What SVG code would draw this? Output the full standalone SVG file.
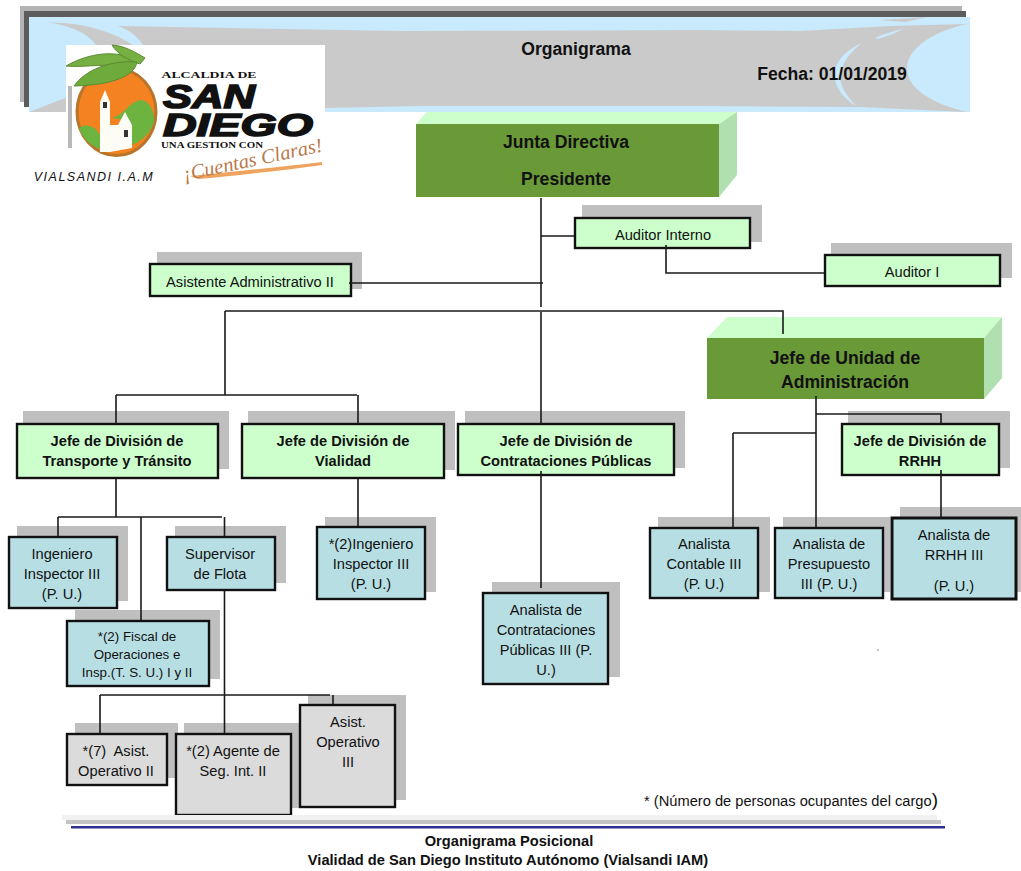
<svg xmlns="http://www.w3.org/2000/svg" width="1021" height="871" viewBox="0 0 1021 871">
<style>
text{font-family:"Liberation Sans",Arial,sans-serif;font-size:14.67px;fill:#111;text-anchor:middle}
.b{font-weight:bold}
.l{font-size:17.6px;font-weight:bold}
.s{fill:#bfbfbf}
.g{fill:#ccffcc;stroke:#111;stroke-width:2.4}
.c{fill:#b7dfe3;stroke:#111;stroke-width:2.4}
.y{fill:#dbdbdb;stroke:#111;stroke-width:2.4}
.f{fill:#6a9938}
.t{fill:#ccffcc}
.d{fill:#b0dfb0}
.sw{fill:#cacaca}
.bl{fill:#c9e9fd}
#connectors path{fill:none;stroke:#1a1a1a;stroke-width:1.6}
</style>
<g id="header">
<rect x="20" y="6" width="942" height="96" fill="#b4b4b4"/>
<rect x="24" y="11" width="942" height="96" fill="#5c5c5c"/>
<rect class="bl" x="29" y="17" width="941" height="95"/>
<path class="sw" d="M143 45C138 37 130 30 118 26L400 31L700 30L800 31L890 26L967 24C930 32 907 50 907 68C907 88 930 103 967 112L860 107L700 106L420 106L325 108V45Z"/>
<path class="sw" d="M45 22C70 25 88 33 96 45H133C115 33 90 25 63 23Z"/>
<path class="sw" d="M880 20L927 17L905 22Z"/>
<path class="sw" d="M29 112L60 100L66 98V112Z"/>
<path class="bl" d="M862 43C842 52 832 66 835 80C838 92 846 100 856 106C848 97 841 88 840 78C840 65 850 52 862 43Z"/>
<path class="bl" d="M875 38C885 33 895 31 905 28L893 34L878 39Z"/>
<text class="l" x="576" y="55">Organigrama</text>
<text class="l" x="832" y="80">Fecha: 01/01/2019</text>
</g>
<g id="logo">
<rect x="66" y="45" width="259" height="135" fill="#fff"/>
<ellipse cx="116.500" cy="112" rx="39.500" ry="43.500" fill="#f58220" stroke="#b8752a" stroke-width="3"/>
<path d="M79 128C88 122 96 128 100 135L100 149C90 146 83 138 79 128Z" fill="#6cb33f"/>
<path d="M112 118C125 115 130 100 142 100C150 102 155 112 154 122C150 135 140 142 130 146L125 120Z" fill="#6cb33f"/>
<path d="M100 152V102L105 90L110 102V152Z" fill="#fdfdf5"/>
<path d="M110 152V125H118L125 112L132 125V148Z" fill="#fdfdf5"/>
<rect x="103" y="102" width="4" height="6" fill="#333"/>
<rect x="124" y="130" width="4" height="7" fill="#333"/>
<path d="M66 66C85 55 110 50 128 57L138 60L130 68C110 62 85 68 66 66Z" fill="#76b043" stroke="#5b8a32"/>
<path d="M112 45C125 46 135 52 145 58L140 64C128 60 118 55 112 45Z" fill="#76b043" stroke="#5b8a32"/>
<path d="M74 86C85 70 110 60 137 62C135 75 115 85 74 86Z" fill="#6faa3d" stroke="#5b8a32"/>
<rect x="68" y="86" width="4" height="62" fill="#b9b9b9"/>
<text class="b" x="209" y="78" style="font-size:9px;font-family:'Liberation Serif',serif" textLength="95" lengthAdjust="spacingAndGlyphs">ALCALDIA DE</text>
<text class="b" x="209" y="108" style="font-size:33px;font-style:italic;stroke:#111;stroke-width:1.600" textLength="92" lengthAdjust="spacingAndGlyphs">SAN</text>
<text class="b" x="238" y="136" style="font-size:32px;font-style:italic;stroke:#111;stroke-width:1.600" textLength="150" lengthAdjust="spacingAndGlyphs">DIEGO</text>
<text class="b" x="212" y="148" style="font-size:7.500px;font-family:'Liberation Serif',serif" textLength="102" lengthAdjust="spacingAndGlyphs">UNA GESTION CON</text>
<path d="M190 176C230 172 280 167 322 162L322 165C280 171 230 176 198 179Z" fill="#f0a35e"/>
<text x="254" y="166" transform="rotate(-12 254 166)" style="font-family:'Liberation Serif',serif;font-style:italic;font-size:20px;fill:#b9794a" textLength="142" lengthAdjust="spacingAndGlyphs">¡Cuentas Claras!</text>
<text x="94" y="181" style="font-size:12.500px;font-style:italic;letter-spacing:1.500px">VIALSANDI I.A.M</text>
</g>
<g id="junta">
<polygon class="t" points="416,124 427,112 737,112 719,124"/>
<polygon class="d" points="719,124 737,112 737,175 719,197"/>
<rect class="f" x="416" y="124" width="303" height="73"/>
<text class="l" x="566" y="148">Junta Directiva</text>
<text class="l" x="566" y="185">Presidente</text>
</g>
<g id="auditor-interno">
<rect class="s" x="582" y="205" width="180" height="37"/>
<rect class="g" x="575" y="218" width="175" height="30"/>
<text x="663" y="240">Auditor Interno</text>
</g>
<g id="auditor-i">
<rect class="s" x="831" y="243" width="181" height="35"/>
<rect class="g" x="825" y="255" width="175" height="31"/>
<text x="912" y="277">Auditor I</text>
</g>
<g id="asistente">
<rect class="s" x="157" y="252" width="205" height="37"/>
<rect class="g" x="150" y="264" width="201" height="32"/>
<text x="250" y="287">Asistente Administrativo II</text>
</g>
<g id="jefe-unidad">
<polygon class="t" points="707,338 727,317 1002,317 984,338"/>
<polygon class="d" points="984,338 1002,317 1002,378 984,399"/>
<rect class="f" x="707" y="338" width="277" height="61"/>
<text class="l" x="845" y="364">Jefe de Unidad de</text>
<text class="l" x="845" y="388">Administración</text>
</g>
<g id="jefe-transporte">
<rect class="s" x="23" y="411" width="206" height="58"/>
<rect class="g" x="17" y="424" width="201" height="54"/>
<text class="b" x="117" y="446">Jefe de División de</text>
<text class="b" x="117" y="466">Transporte y Tránsito</text>
</g>
<g id="jefe-vialidad">
<rect class="s" x="248" y="411" width="207" height="59"/>
<rect class="g" x="242" y="424" width="202" height="54"/>
<text class="b" x="343" y="446">Jefe de División de</text>
<text class="b" x="343" y="466">Vialidad</text>
</g>
<g id="jefe-contrataciones">
<rect class="s" x="465" y="411" width="220" height="57"/>
<rect class="g" x="458" y="424" width="216" height="51"/>
<text class="b" x="566" y="446">Jefe de División de</text>
<text class="b" x="566" y="466">Contrataciones Públicas</text>
</g>
<g id="jefe-rrhh">
<rect class="s" x="848" y="411" width="162" height="57"/>
<rect class="g" x="842" y="424" width="157" height="51"/>
<text class="b" x="920" y="446">Jefe de División de</text>
<text class="b" x="920" y="466">RRHH</text>
</g>
<g id="ingeniero">
<rect class="s" x="17" y="526" width="111" height="75"/>
<rect class="c" x="9" y="537" width="108" height="71"/>
<text x="62" y="559">Ingeniero</text>
<text x="62" y="579">Inspector III</text>
<text x="62" y="599">(P. U.)</text>
</g>
<g id="supervisor">
<rect class="s" x="175" y="526" width="111" height="57"/>
<rect class="c" x="167" y="537" width="108" height="53"/>
<text x="220" y="559">Supervisor</text>
<text x="220" y="579">de Flota</text>
</g>
<g id="fiscal">
<rect class="s" x="75" y="610" width="145" height="69"/>
<rect class="c" x="67" y="621" width="142" height="65"/>
<text x="137" y="641" style="font-size:13.330px">*(2) Fiscal de</text>
<text x="137" y="659" style="font-size:13.330px">Operaciones e</text>
<text x="137" y="677" style="font-size:13.330px">Insp.(T. S. U.) I y II</text>
</g>
<g id="asist-ii">
<rect class="s" x="75" y="723" width="103" height="55"/>
<rect class="y" x="67" y="734" width="100" height="51"/>
<text x="116" y="756" xml:space="preserve">*(7)  Asist.</text>
<text x="116" y="776">Operativo II</text>
</g>
<g id="agente">
<rect class="s" x="184" y="723" width="116" height="85"/>
<rect class="y" x="176" y="734" width="115" height="81"/>
<text x="233" y="756">*(2) Agente de</text>
<text x="233" y="776">Seg. Int. II</text>
</g>
<g id="asist-iii">
<rect class="s" x="308" y="695" width="98" height="105"/>
<rect class="y" x="300" y="705" width="95" height="102"/>
<text x="348" y="727">Asist.</text>
<text x="348" y="747">Operativo</text>
<text x="348" y="767">III</text>
</g>
<g id="ingeniero-2">
<rect class="s" x="325" y="517" width="111" height="75"/>
<rect class="c" x="317" y="527" width="108" height="72"/>
<text x="371" y="549">*(2)Ingeniero</text>
<text x="371" y="569">Inspector III</text>
<text x="371" y="589">(P. U.)</text>
</g>
<g id="analista-contrataciones">
<rect class="s" x="492" y="582" width="128" height="95"/>
<rect class="c" x="483" y="593" width="125" height="91"/>
<text x="546" y="615">Analista de</text>
<text x="546" y="635">Contrataciones</text>
<text x="546" y="655">Públicas III (P.</text>
<text x="546" y="675">U.)</text>
</g>
<g id="analista-contable">
<rect class="s" x="658" y="517" width="112" height="75"/>
<rect class="c" x="650" y="528" width="108" height="70"/>
<text x="704" y="549">Analista</text>
<text x="704" y="569">Contable III</text>
<text x="704" y="589">(P. U.)</text>
</g>
<g id="analista-presupuesto">
<rect class="s" x="783" y="517" width="107" height="75"/>
<rect class="c" x="775" y="528" width="108" height="70"/>
<text x="829" y="549">Analista de</text>
<text x="829" y="569">Presupuesto</text>
<text x="829" y="589">III (P. U.)</text>
</g>
<g id="analista-rrhh">
<rect class="s" x="900" y="507" width="121" height="85"/>
<rect class="c" x="892" y="518" width="124" height="81" style="stroke-width:3"/>
<text x="954" y="540">Analista de</text>
<text x="954" y="560">RRHH III</text>
<text x="954" y="591">(P. U.)</text>
</g>
<g id="footer">
<circle cx="878" cy="650" r="0.700" fill="#555"/>
<text x="791" y="806">* (Número de personas ocupantes del cargo<tspan style="font-size:19px">)</tspan></text>
<rect x="62" y="815" width="875" height="5" fill="#f1f1f1"/>
<rect x="66" y="820" width="875" height="4" fill="#c4c4c4"/>
<rect x="71" y="826" width="874" height="2.500" fill="#2e3192"/>
<text class="b" x="509" y="846">Organigrama Posicional</text>
<text class="b" x="508" y="865">Vialidad de San Diego Instituto Autónomo (Vialsandi IAM)</text>
</g>
<g id="connectors">
<path d="M541 198V307M541 312V423M541 236H574M349 283H543M666 245V273H824"/>
<path d="M225 311H783V334M225 311V395M116 395H357M358 395V423M116 395V423"/>
<path d="M116 479V517M58 517H222M58 517V536M141 517V620M224.500 517V536M224.500 591V733M100 695H330M100 695V733M333 695V704"/>
<path d="M358 479V526M541 471V588M816 396V527M816 414H941V423M733 433H816M733 433V527M941 470V517"/>
</g>
</svg>
